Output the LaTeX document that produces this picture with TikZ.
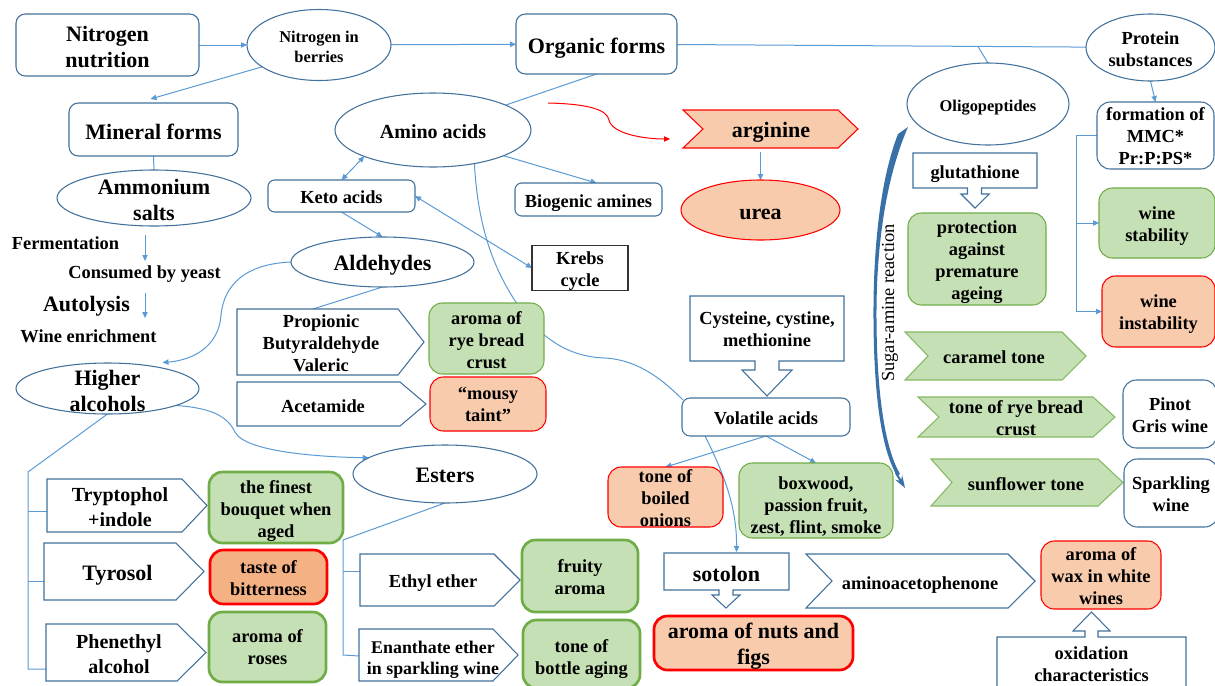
\documentclass[tikz,border=0pt]{standalone}
\usepackage{fontspec}
\setmainfont{Liberation Serif}
\usetikzlibrary{shapes.geometric,arrows.meta,calc,backgrounds}
\definecolor{bord}{HTML}{41719C}
\definecolor{lnk}{HTML}{5B9BD5}
\definecolor{grnf}{HTML}{C5E0B4}
\definecolor{grnb}{HTML}{70AD47}
\definecolor{pchf}{HTML}{F8CBAD}
\definecolor{orgf}{HTML}{F4B183}
\definecolor{sug}{HTML}{3A70A8}
\newcommand\tstrut[1]{\rule{0pt}{#1}}
\begin{document}
\begin{tikzpicture}[x=0.75pt,y=-0.75pt,
  every node/.style={inner sep=0pt,outer sep=0pt,align=center},
  fB/.style={font=\fontsize{16.5}{19.5}\selectfont\bfseries},
  fL/.style={font=\fontsize{15}{18.75}\selectfont\bfseries},
  fM/.style={font=\fontsize{13.8}{16.5}\selectfont\bfseries},
  fN/.style={font=\fontsize{13.4}{15.75}\selectfont\bfseries},
  fS/.style={font=\fontsize{12.3}{15}\selectfont\bfseries},
  dn/.style={execute at begin node={\rule{0pt}{#1}}},
  dn/.default=0.92em,
  wh/.style 2 args={minimum width=#1*0.75pt,minimum height=#2*0.75pt},
  rbox/.style={draw=bord,line width=0.8pt,fill=white,rounded corners=7pt},
  gbox/.style={draw=grnb,line width=0.8pt,fill=grnf,rounded corners=10pt},
  gboxT/.style={gbox,line width=2pt},
  pbox/.style={draw=red,line width=0.8pt,fill=pchf,rounded corners=10pt},
  pboxT/.style={pbox,line width=2pt},
  ell/.style={ellipse,draw=bord,line width=0.8pt,fill=white},
  shp/.style={draw=bord,line width=0.8pt,fill=white},
  gshp/.style={draw=grnb!85,line width=0.8pt,fill=grnf},
  cn/.style={draw=lnk,line width=0.75pt},
  ar/.style={-{Triangle[length=4.5pt,width=4pt]}},
  arb/.style={{Triangle[length=4.5pt,width=4pt]}-{Triangle[length=4.5pt,width=4pt]}}
]
\useasboundingbox (0,0) rectangle (1215,686);

% ---------- custom outlines ----------
\draw[draw=red,line width=0.8pt,fill=pchf] (683,110) -- (838,110) -- (858,129) -- (838,148) -- (683,148) -- (703,129) -- cycle;
\draw[gshp] (905,332) -- (1062,332) -- (1086,356) -- (1062,380) -- (905,380) -- (928,356) -- cycle;
\draw[gshp] (918,397) -- (1093,397) -- (1115,417) -- (1093,437) -- (918,437) -- (939,417) -- cycle;
\draw[gshp] (931,459) -- (1098,459) -- (1123,482.5) -- (1098,506) -- (931,506) -- (952,482.5) -- cycle;
\draw[shp] (806,554) -- (1008,554) -- (1035,581) -- (1008,608) -- (806,608) -- (832,581) -- cycle;
% pentagons
\draw[shp] (237,309) -- (398,309) -- (424,342) -- (398,375) -- (237,375) -- cycle;
\draw[shp] (237,382) -- (400,382) -- (426,404) -- (400,426) -- (237,426) -- cycle;
\draw[shp] (47,479) -- (182,479) -- (207,505.5) -- (182,532) -- (47,532) -- cycle;
\draw[shp] (44,543) -- (176,543) -- (204,571.5) -- (176,600) -- (44,600) -- cycle;
\draw[shp] (46,624) -- (177,624) -- (206,652.5) -- (177,681) -- (46,681) -- cycle;
\draw[shp] (360,554) -- (494,554) -- (520,580) -- (494,606) -- (360,606) -- cycle;
\draw[shp] (359,629) -- (493,629) -- (518,655) -- (493,681) -- (359,681) -- cycle;
% callouts
\draw[shp] (913,153) -- (1037,153) -- (1037,188) -- (981.5,188) -- (981.5,194) -- (989,194) -- (975,208) -- (961,194) -- (967.5,194) -- (967.5,188) -- (913,188) -- cycle;
\draw[shp] (690,296) -- (844,296) -- (844,361) -- (779,361) -- (779,370) -- (792,370) -- (767,396) -- (742,370) -- (755,370) -- (755,361) -- (690,361) -- cycle;
\draw[shp] (664,553) -- (789,553) -- (789,590) -- (733,590) -- (733,595) -- (740,595) -- (726,608) -- (712,595) -- (719,595) -- (719,590) -- (664,590) -- cycle;
\draw[shp] (997,700) -- (997,637) -- (1085,637) -- (1085,631) -- (1073,631) -- (1091.5,612) -- (1110,631) -- (1098,631) -- (1098,637) -- (1186,637) -- (1186,700) -- cycle;

% ---------- nodes ----------
\node[rbox,wh={183}{62},fB] (nutr) at (107.5,45) {\tstrut{0.84em}Nitrogen\\nutrition};
\node[ell,wh={144}{71}] (berr) at (319,45) {};
\node[fS] (berrT) at (319,47) {Nitrogen in\\berries};
\node[rbox,wh={161}{60},fB,dn=1.1em] (org) at (596.5,44) {Organic forms};
\node[ell,wh={129}{67}] (prot) at (1150.5,47.5) {};
\node[fM] (protT) at (1150.5,49) {Protein\\substances};
\node[rbox,wh={169}{53},fB,dn] (mine) at (153.5,129.5) {Mineral forms};
\node[ell,wh={194}{56}] (amm) at (154,198) {};
\node[fB] (ammT) at (154,200) {Ammonium\\salts};
\node[ell,wh={196}{74}] (amino) at (433,130) {};
\node[fL] (aminoT) at (433,132) {Amino acids};
\node[rbox,rounded corners=5pt,wh={147}{32},fM,dn=0.8em] (keto) at (341.5,196) {Keto acids};
\node[rbox,rounded corners=5pt,wh={147}{33},fM,dn=1.1em] (bio) at (588.5,199.5) {Biogenic amines};
\node[wh={176}{38},fB,dn=1em] (arg) at (771,129) {arginine};
\node[ellipse,draw=red,line width=0.8pt,fill=pchf,wh={159}{60}] (urea) at (760.5,210) {};
\node[fB] (ureaT) at (760.5,214) {urea};
\node[ell,wh={162}{82}] (oligo) at (988,104) {};
\node[fS] (oligoT) at (988,108) {Oligopeptides};
\node[rbox,rounded corners=10pt,wh={117}{67},fM] (form) at (1155.5,135.5) {\tstrut{0.8em}formation of\\MMC*\\Pr:P:PS*};
\node[wh={124}{35},fM,dn=1.1em] (glut) at (975,170.5) {glutathione};
\node[gbox,wh={138}{92},fM] (prote) at (977,259) {\tstrut{1.03em}protection\\against\\premature\\ageing};
\node[gbox,wh={116}{70},fM] (stab) at (1157,223) {\tstrut{1.03em}wine\\stability};
\node[pbox,wh={113}{71},fM] (instab) at (1158.5,311.5) {\tstrut{1.03em}wine\\instability};
\node[wh={178}{48},fM,dn=0.8em] (car) at (994,356) {caramel tone};
\node[wh={196}{40},fM] (trye) at (1016,417) {\tstrut{0.8em}tone of rye bread\\crust};
\node[wh={190}{47},fM,dn] (sun) at (1026,482.5) {sunflower tone};
\node[rbox,rounded corners=10pt,wh={94}{68},fM] (pinot) at (1170,414) {\tstrut{0.8em}Pinot\\Gris wine};
\node[rbox,rounded corners=10pt,wh={94}{68},fM] (spark) at (1171,493) {\tstrut{0.8em}Sparkling\\wine};
\node[draw=black!80,line width=1pt,fill=white,wh={96}{42},fM] (krebs) at (580,268) {\tstrut{1.03em}Krebs\\cycle};
\node[ell,wh={183}{50}] (ald) at (382.5,262) {};
\node[fB] (aldT) at (382.5,265) {Aldehydes};
\node[wh={168}{66},fM] (prop) at (321,342) {\tstrut{0.8em}Propionic\\Butyraldehyde\\Valeric};
\node[wh={172}{44},fM,dn] (acet) at (323,404) {Acetamide};
\node[gbox,wh={115}{71},fM] (rye) at (486.5,338.5) {\tstrut{0.92em}aroma of\\rye bread\\crust};
\node[pbox,wh={116}{54},fM] (mousy) at (488,404) {“mousy\\taint”};
\node[wh={154}{65},fM] (cyst) at (767,328.5) {\tstrut{0.8em}Cysteine, cystine,\\methionine};
\node[rbox,rounded corners=6pt,wh={168}{38},fM,dn=0.8em] (vol) at (766,417) {Volatile acids};
\node[ell,wh={183}{51}] (higher) at (107.5,388.5) {};
\node[fB] (higherT) at (107.5,390.5) {Higher\\alcohols};
\node[ell,wh={184}{58}] (esters) at (445,474) {};
\node[fB] (estersT) at (445,475) {Esters};
\node[pbox,wh={115}{60},fM] (onion) at (665.5,497) {\tstrut{0.8em}tone of\\boiled\\onions};
\node[gbox,wh={154}{75},fM] (boxw) at (816,500.5) {\tstrut{1.35em}boxwood,\\passion fruit,\\zest, flint, smoke};
\node[wh={146}{53},fL] (tryp) at (120,505.5) {\tstrut{0.9em}Tryptophol\\+indole};
\node[gboxT,wh={134}{71},fM] (bouq) at (276,507.5) {\tstrut{1.14em}the finest\\bouquet when\\aged};
\node[wh={147}{57},fB,dn=1em] (tyro) at (117.5,571.5) {Tyrosol};
\node[pboxT,fill=orgf,wh={117}{54},fM] (bitt) at (268.5,577) {\tstrut{0.8em}taste of\\bitterness};
\node[wh={146}{57},fL] (phen) at (119,652.5) {\tstrut{0.9em}Phenethyl\\alcohol};
\node[gboxT,wh={117}{70},fM] (roses) at (267.5,647) {aroma of\\roses};
\node[wh={146}{52},fM,dn=1em] (ethyl) at (433,580) {Ethyl ether};
\node[gboxT,wh={116}{72},fM] (fruity) at (580,576) {\tstrut{0.8em}fruity\\aroma};
\node[wh={148}{52},fN] (enan) at (433,656) {\tstrut{1.15em}Enanthate ether\\in sparkling wine};
\node[gboxT,wh={117}{68},fM] (bottle) at (581.5,654) {\tstrut{1.25em}tone of\\bottle aging};
\node[wh={125}{37},fB,dn] (sot) at (726.5,571.5) {sotolon};
\node[pboxT,wh={199}{54},fB] (nuts) at (753.5,643) {\tstrut{0.97em}aroma of nuts and\\figs};
\node[wh={228}{54},fM,dn=1.1em] (amin) at (920,581) {aminoacetophenone};
\node[pbox,wh={120}{68},fM] (wax) at (1101,575) {\tstrut{0.8em}aroma of\\wax in white\\wines};
\node[wh={189}{52},fM] (oxid) at (1091.5,663) {\tstrut{0.8em}oxidation\\characteristics};
% plain labels
\node[fM] (ferm) at (65.5,243) {Fermentation};
\node[fM] (cons) at (144.5,274) {Consumed by yeast};
\node[fB] (auto) at (86.5,306) {Autolysis};
\node[fM] (wine) at (88.5,336) {Wine enrichment};
\node[rotate=90,font=\fontsize{13.8}{16.5}\selectfont] (sugT) at (890,303) {Sugar-amine reaction};

% sugar-amine arrow
\fill[sug] (898,134) .. controls (880,180) and (873,250) .. (873.5,320) .. controls (874,400) and (882,450) .. (897,476) -- (900,474) .. controls (886,450) and (877,400) .. (876.5,320) .. controls (876,250) and (885,180) .. (908,127) -- cycle;
\draw[sug,line width=1.6pt,-{Stealth[length=9pt,width=6pt]}] (896,473) -- (905,488);

% ---------- connectors (behind) ----------
\coordinate (rs) at (548,103);
\coordinate (f1) at (145,235);
\coordinate (f2) at (145,261);
\coordinate (f3) at (145,293);
\coordinate (f4) at (145,318);
\coordinate (hb0) at (28,472);
\coordinate (hb1) at (28,511);
\coordinate (hb2) at (28,581);
\coordinate (hb3) at (28,669);
\coordinate (eb0) at (343,540);
\coordinate (eb1) at (343,571);
\coordinate (eb2) at (343,655);
\begin{pgfonlayer}{background}
\fill[white] (0,0) rectangle (1215,686);
\draw[cn,ar] (nutr) -- (berr);
\draw[cn,ar] (berr) -- (org);
\draw[cn,ar] (berr.201) -- ($(mine.north)+(-3,-4)$);
\draw[cn] (org) -- (prot);
\draw[cn] ($(org.east)!0.736!(prot.west)$) -- (oligo.north);
\draw[cn] (org.south) -- (amino);
\draw[cn] (mine) -- (amm);
\draw[cn,arb] (keto.north) -- (amino.201);
\draw[cn,ar] (keto.south) -- (ald.north);
\draw[cn,ar] (amino.-20) -- ($(bio.north)+(8,0)$);
\draw[cn,arb] (keto.east) -- (krebs.west);
\draw[cn] (amino.-39) .. controls (478,230) and (495,275) .. (525,315) .. controls (545,340) and (570,357) .. (605,358) .. controls (640,360) and (665,382) .. ($(vol.north west)+(1,2)$);
\draw[cn,ar] (ald.west) .. controls (245,264) and (224,285) .. (221,315) .. controls (219,345) and (195,360) .. ($(higher.center)+(55,-26)$);
\draw[cn] (ald.south) -- ($(prop.north)+(-8,0)$);
\draw[cn,ar] (higher.-14) .. controls (215,408) and (228,418) .. (235,432) .. controls (245,452) and (320,457) .. (esters.168);
\draw[cn] (higher.south) -- (hb0) -- (hb3) -- (hb3 -| phen.west);
\draw[cn] (hb1) -- (hb1 -| tryp.west);
\draw[cn] (hb2) -- (hb2 -| tyro.west);
\draw[cn] (esters.south) -- (eb0) -- (eb2) -- (enan.west);
\draw[cn] (eb1) -- (eb1 -| ethyl.west);
\draw[cn,ar] (prot.south) -- (form.north);
\draw[cn] (form.west) -- ++(-21,0) coordinate (fb) -- (fb |- instab.west);
\draw[cn,ar] (fb |- stab.west) -- (stab.west);
\draw[cn,ar] (fb |- instab.west) -- (instab.west);
\draw[cn,ar] (vol.south) -- (onion.north);
\draw[cn,ar] (vol.south) -- (boxw.north);
\draw[cn,ar] ($(vol.south west)+(23,0)$) .. controls (722,470) and (737,505) .. ($(sot.north)+(10,-1)$);
\draw[cn,ar,shorten <=3pt] (urea.north |- arg.south) -- (urea.north);
\draw[red,line width=0.75pt,ar] (rs) .. controls (590,104) and (607,110) .. (609,120) .. controls (612,134) and (645,139) .. ($(arg.west)+(-13,10)$);
\draw[cn,ar] (f1) -- (f2);
\draw[cn,ar] (f3) -- (f4);
\end{pgfonlayer}
\end{tikzpicture}
\end{document}
